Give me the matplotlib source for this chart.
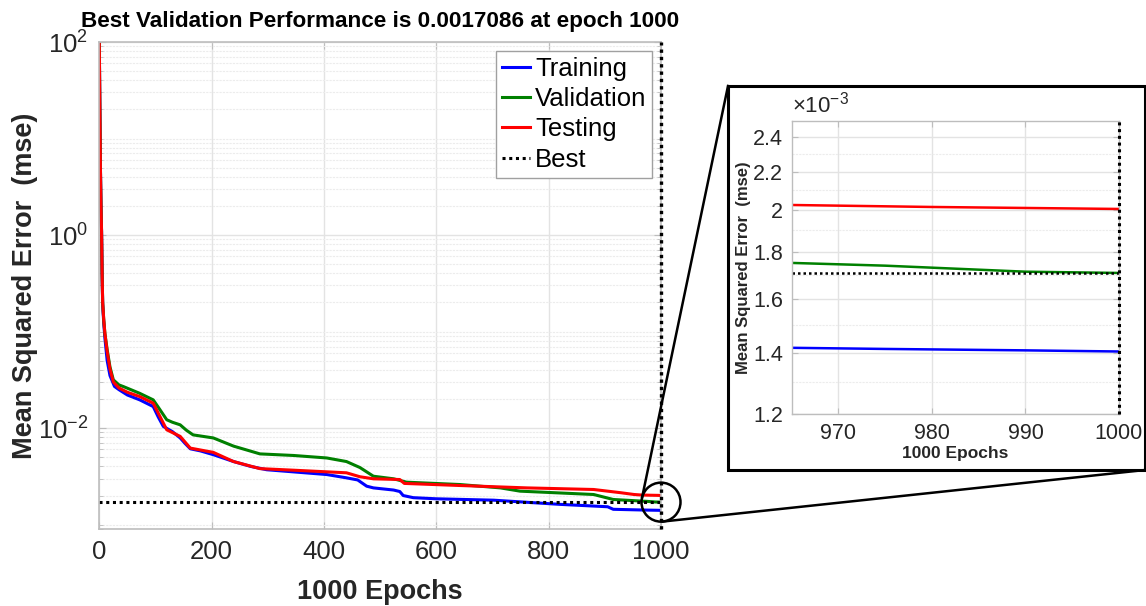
import matplotlib
matplotlib.use("Agg")
import matplotlib.pyplot as plt
import numpy as np
from matplotlib.patches import Rectangle, Ellipse
from matplotlib.lines import Line2D
from matplotlib.ticker import FixedLocator, NullFormatter, FixedFormatter

plt.rcParams['font.family'] = ['Liberation Sans', 'DejaVu Sans']
plt.rcParams['mathtext.default'] = 'regular'

# ---------------- data ----------------
train_ep = [0, 1, 2, 3, 4, 5, 6, 8, 10, 14, 19, 27, 35, 50, 72, 96, 105, 114, 130, 144, 152, 162, 180,
            203, 239, 270, 298, 350, 405, 440, 460, 476, 488, 524, 535, 541, 559, 600, 702, 820, 905,
            915, 965, 975, 990, 1000]
train_mse = [95, 20, 5, 2, 1.1, 0.4, 0.19, 0.12, 0.085, 0.05, 0.035, 0.027, 0.025, 0.022, 0.0196, 0.0167,
             0.013, 0.0104, 0.0092, 0.0079, 0.0070, 0.0061, 0.0058, 0.0053, 0.0045, 0.0040, 0.0037,
             0.0035, 0.0033, 0.00305, 0.0029, 0.0025, 0.0024, 0.00228, 0.0022, 0.0020, 0.0019,
             0.00185, 0.00179, 0.00162, 0.00153, 0.00144, 0.001417, 0.001413, 0.001408, 0.001404]

val_ep = [0, 1, 2, 3, 4, 5, 6, 8, 10, 14, 19, 25, 35, 43, 72, 96, 108, 120, 130, 144, 155, 167, 203,
          239, 286, 346, 405, 440, 464, 488, 524, 547, 642, 714, 749, 880, 915, 965, 975, 990, 1000]
val_mse = [95, 20, 5, 2, 1.1, 0.4, 0.2, 0.13, 0.095, 0.065, 0.043, 0.0316, 0.028, 0.0269, 0.0229,
           0.0196, 0.0155, 0.0122, 0.0115, 0.0108, 0.0095, 0.0085, 0.0079, 0.0065, 0.0054, 0.0052,
           0.0049, 0.0045, 0.0039, 0.00317, 0.00298, 0.00275, 0.0026, 0.0024, 0.00222, 0.00205,
           0.00182, 0.001752, 0.00174, 0.001714, 0.0017086]

test_ep = [0, 1, 2, 3, 4, 5, 6, 8, 10, 14, 19, 25, 35, 50, 72, 96, 108, 120, 144, 162, 203, 239, 286,
           346, 440, 464, 488, 535, 543, 642, 761, 880, 928, 952, 965, 980, 1000]
test_mse = [95, 20, 5, 2, 1.1, 0.4, 0.2, 0.13, 0.095, 0.062, 0.041, 0.030, 0.026, 0.0235, 0.0212,
            0.0181, 0.0132, 0.0096, 0.0082, 0.0062, 0.0056, 0.0045, 0.0038, 0.00366, 0.00344,
            0.00313, 0.00298, 0.00293, 0.00267, 0.00254, 0.0024, 0.00231, 0.00214, 0.00205,
            0.002025, 0.002015, 0.002005]

best_epoch = 1000
best_perf = 0.0017086

x_ticks = [0, 200, 400, 600, 800, 1000]
y_ticks = [1e-2, 1e0, 1e2]
inset_xticks = [970, 980, 990, 1000]
inset_yticks = [1.2e-3, 1.4e-3, 1.6e-3, 1.8e-3, 2.0e-3, 2.2e-3, 2.4e-3]
inset_ytick_labels = ['1.2', '1.4', '1.6', '1.8', '2', '2.2', '2.4']

title_text = 'Best Validation Performance is 0.0017086 at epoch 1000'
xlabel_text = '1000 Epochs'
ylabel_text = 'Mean Squared Error  (mse)'
series_names = ['Training', 'Validation', 'Testing', 'Best']

# ---------------- figure ----------------
W, H = 1146, 606
fig = plt.figure(figsize=(W / 100, H / 100), dpi=100)
fig.patch.set_facecolor('white')

def fx(px):
    return px / W

def fy(py):
    return 1 - py / H

TXT = '#262626'
SPINE = '#bdbdbd'
DOT = (0, (1, 1.2))

ax = fig.add_axes([fx(99.3), fy(529), fx(661) - fx(99.3), fy(42) - fy(529)])
ax.set_yscale('log')
ax.plot(train_ep, train_mse, color='#0000ff', lw=2.2, label=series_names[0])
ax.plot(val_ep, val_mse, color='#008000', lw=2.2, label=series_names[1])
ax.plot(test_ep, test_mse, color='#ff0000', lw=2.2, label=series_names[2])
ax.axhline(best_perf, color='black', lw=2.2, ls=DOT, label=series_names[3])
ax.axvline(best_epoch, color='black', lw=2.4, ls=DOT, clip_on=False, zorder=4)
ax.set_xlim(0, 1000)
ax.set_ylim(9.0e-4, 100)

ax.xaxis.set_major_locator(FixedLocator(x_ticks))
ax.yaxis.set_major_locator(FixedLocator(y_ticks))
minors = [k * 10.0 ** e for e in range(-4, 3) for k in range(1, 10)
          if k * 10.0 ** e not in y_ticks]
ax.yaxis.set_minor_locator(FixedLocator(minors))
ax.yaxis.set_minor_formatter(NullFormatter())
ax.set_yticklabels([r'$10^{-2}$', r'$10^{0}$', r'$10^{2}$'])
ax.tick_params(axis='both', which='major', labelsize=18.5, colors=TXT, direction='in',
               top=True, right=True, length=5, width=0.8, pad=8)
ax.tick_params(axis='y', which='minor', direction='in', length=3, width=0.6, right=True,
               colors=SPINE)
ax.tick_params(axis='both', which='major', color=SPINE)
ax.grid(True, which='major', color='#e3e3e3', lw=1.0)
ax.grid(True, which='minor', axis='y', color='#ececec', lw=0.8, ls=(0, (2, 1)))
ax.set_axisbelow(True)
for s in ax.spines.values():
    s.set_color(SPINE)
    s.set_linewidth(1.2)

ax.set_title(title_text, fontsize=16.2, fontweight='bold', color='black', pad=11)
ax.set_xlabel(xlabel_text, fontsize=19.5, fontweight='bold', color=TXT, labelpad=11)
ax.set_ylabel(ylabel_text, fontsize=19.5, fontweight='bold', color=TXT, labelpad=0)

leg = ax.legend(loc='upper right', fontsize=18.5, handlelength=1.1, handletextpad=0.2,
                labelspacing=0.25, borderpad=0.22, borderaxespad=0.35, fancybox=False,
                framealpha=1, edgecolor='#a0a0a0')
leg.get_frame().set_linewidth(1.0)

# ---------------- zoom box ----------------
box = Rectangle((fx(728), fy(470)), fx(1145) - fx(728), fy(86) - fy(470),
                transform=fig.transFigure, facecolor='white', edgecolor='black', lw=2.2,
                zorder=1)
fig.add_artist(box)

ax2 = fig.add_axes([fx(791.7), fy(414.3), fx(1119) - fx(791.7), fy(120.7) - fy(414.3)],
                   zorder=3)
ax2.set_yscale('log')
ax2.plot(train_ep, train_mse, color='#0000ff', lw=1.8)
ax2.plot(val_ep, val_mse, color='#008000', lw=1.8)
ax2.plot(test_ep, test_mse, color='#ff0000', lw=1.8)
ax2.axhline(best_perf, color='black', lw=1.8, ls=DOT)
ax2.axvline(best_epoch, color='black', lw=2.2, ls=DOT, clip_on=False, zorder=4)
ax2.set_xlim(965, 1000)
ax2.set_ylim(1.2e-3, 2.5e-3)
ax2.xaxis.set_major_locator(FixedLocator(inset_xticks))
ax2.yaxis.set_major_locator(FixedLocator(inset_yticks))
ax2.yaxis.set_major_formatter(FixedFormatter(inset_ytick_labels))
ax2.yaxis.set_minor_locator(FixedLocator([1.3e-3, 1.5e-3, 1.7e-3, 1.9e-3, 2.1e-3, 2.3e-3]))
ax2.yaxis.set_minor_formatter(NullFormatter())
ax2.tick_params(axis='both', which='major', labelsize=15.5, colors=TXT, direction='in',
                top=True, right=True, length=4, width=0.8, pad=6, color=SPINE)
ax2.tick_params(axis='y', which='minor', length=0)
ax2.grid(True, which='major', color='#e3e3e3', lw=1.0)
ax2.grid(True, which='minor', axis='y', color='#ececec', lw=0.8, ls=(0, (2, 1)))
ax2.set_axisbelow(True)
for s in ax2.spines.values():
    s.set_color(SPINE)
    s.set_linewidth(1.0)
ax2.set_xlabel(xlabel_text, fontsize=12.5, fontweight='bold', color=TXT, labelpad=2)
ax2.set_ylabel(ylabel_text, fontsize=12, fontweight='bold', color=TXT, labelpad=2)
ax2.text(0.0, 1.012, r'$\times10^{-3}$', transform=ax2.transAxes, fontsize=16, color=TXT,
         ha='left', va='bottom')

# ---------------- circle and connectors ----------------
fig.canvas.draw()
cx, cy = ax.transData.transform((best_epoch, best_perf))  # display px (origin bottom-left)
r = 19.5
circ = Ellipse((cx / W, cy / H), 2 * r / W, 2 * r / H, transform=fig.transFigure,
               facecolor='none', edgecolor='black', lw=1.8, zorder=5)
fig.add_artist(circ)
th1 = np.deg2rad(165)
th2 = np.deg2rad(-85)
p1 = ((cx + r * np.cos(th1)) / W, (cy + r * np.sin(th1)) / H)
p2 = ((cx + r * np.cos(th2)) / W, (cy + r * np.sin(th2)) / H)
fig.add_artist(Line2D([p1[0], fx(728)], [p1[1], fy(86)], transform=fig.transFigure,
                      color='black', lw=1.8, zorder=5))
fig.add_artist(Line2D([p2[0], fx(1145)], [p2[1], fy(470)], transform=fig.transFigure,
                      color='black', lw=1.8, zorder=5))

fig.savefig('out.png', dpi=100, facecolor='white')
